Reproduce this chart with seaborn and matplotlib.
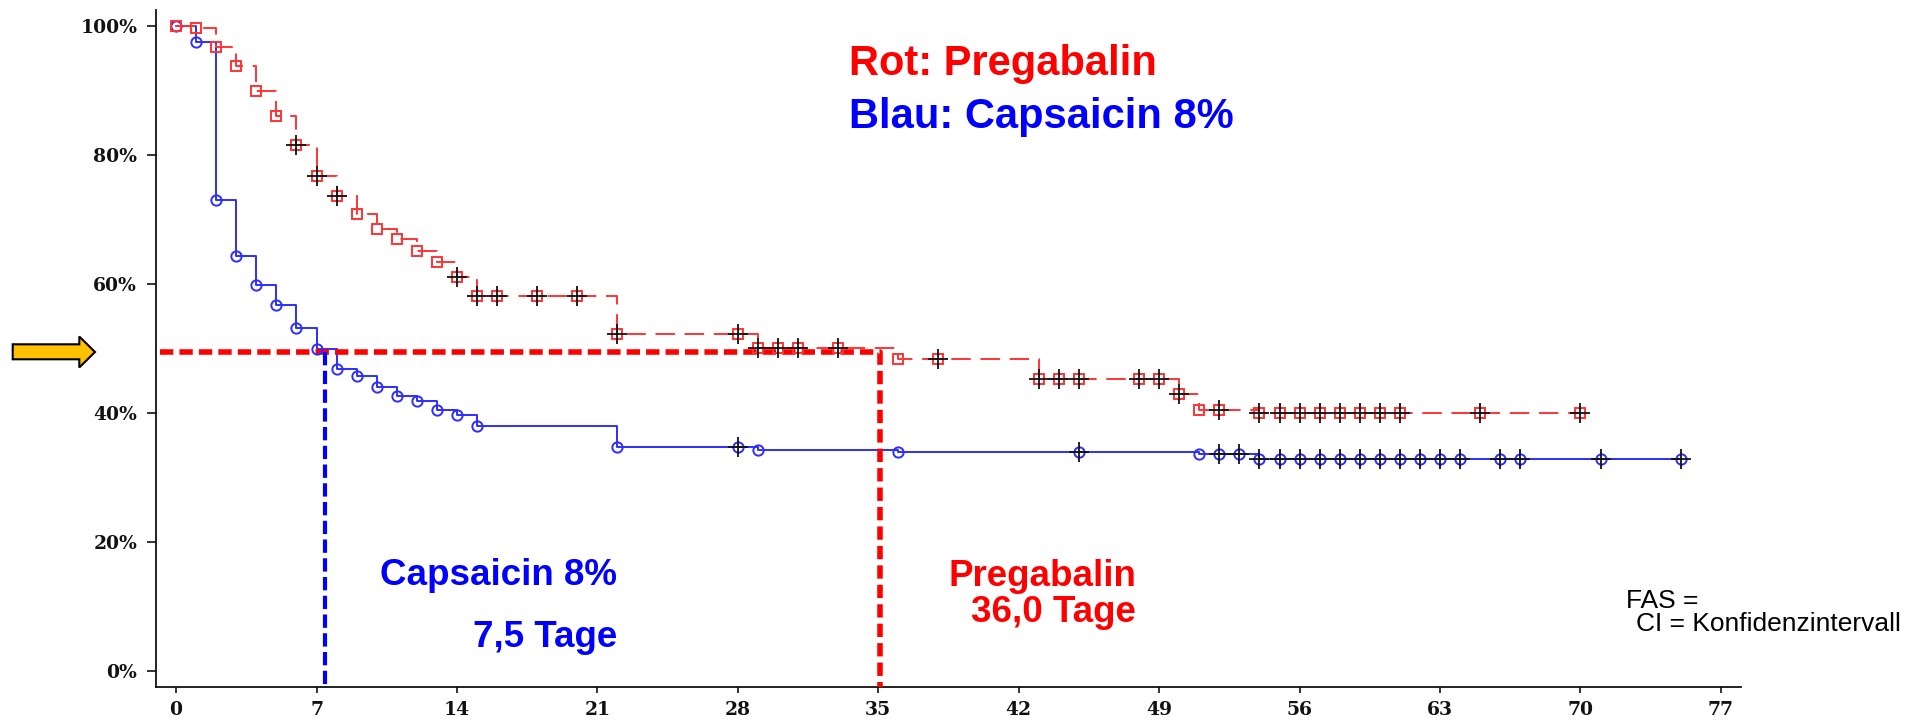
import numpy as np
import pandas as pd
import matplotlib
matplotlib.use("Agg")
import matplotlib.pyplot as plt
from matplotlib.patches import Polygon
import seaborn as sns

# Kaplan-Meier estimates (percent) per treatment arm
preg_days = [0, 1, 2, 3, 4, 5, 6, 7, 8, 9, 10, 11, 12, 13, 14, 15, 16, 18, 20, 22,
             28, 29, 30, 31, 33, 36, 38, 43, 44, 45, 48, 49, 50, 51, 52,
             54, 55, 56, 57, 58, 59, 60, 61, 65, 70]
preg_surv = [100.0, 99.7, 96.8, 93.8, 90.0, 86.0, 81.5, 76.7, 73.6, 70.8, 68.5, 67.0,
             65.1, 63.4, 61.1, 58.2, 58.2, 58.2, 58.2, 52.3,
             52.3, 50.0, 50.0, 50.0, 50.0, 48.4, 48.4, 45.2, 45.2, 45.2, 45.2, 45.2,
             42.9, 40.4, 40.4,
             40.0, 40.0, 40.0, 40.0, 40.0, 40.0, 40.0, 40.0, 40.0, 40.0]
preg_censored = [0, 0, 0, 0, 0, 0, 1, 1, 1, 0, 0, 0, 0, 0, 1, 1, 1, 1, 1, 1,
                 1, 1, 1, 1, 1, 0, 1, 1, 1, 1, 1, 1, 1, 0, 1,
                 1, 1, 1, 1, 1, 1, 1, 1, 1, 1]

caps_days = [0, 1, 2, 3, 4, 5, 6, 7, 8, 9, 10, 11, 12, 13, 14, 15, 22, 28, 29, 36, 45,
             51, 52, 53, 54, 55, 56, 57, 58, 59, 60, 61, 62, 63, 64, 66, 67, 71, 75]
caps_surv = [100.0, 97.5, 73.0, 64.4, 59.9, 56.7, 53.1, 49.85, 46.8, 45.7, 44.0, 42.6,
             41.8, 40.4, 39.7, 37.9, 34.7, 34.7, 34.3, 34.0, 34.0,
             33.6, 33.6, 33.6, 32.8, 32.8, 32.8, 32.8, 32.8, 32.8, 32.8, 32.8, 32.8,
             32.8, 32.8, 32.8, 32.8, 32.8, 32.8]
caps_censored = [0, 0, 0, 0, 0, 0, 0, 0, 0, 0, 0, 0, 0, 0, 0, 0, 0, 1, 0, 0, 1,
                 0, 1, 1, 1, 1, 1, 1, 1, 1, 1, 1, 1, 1, 1, 1, 1, 1, 1]

# Median reference lines (day) and the 50 % level
median_line_x = {"caps": 7.4, "preg": 35.1}
half_level = 49.5
median_labels = {"caps": "7,5 Tage", "preg": "36,0 Tage"}

x_ticks = [0, 7, 14, 21, 28, 35, 42, 49, 56, 63, 70, 77]
y_ticks = [0, 20, 40, 60, 80, 100]
y_tick_labels = ["0%", "20%", "40%", "60%", "80%", "100%"]

RED = "#FF3434"
BLUE = "#2E2EFF"

preg = pd.DataFrame({"day": preg_days, "surv": preg_surv, "cens": preg_censored})
caps = pd.DataFrame({"day": caps_days, "surv": caps_surv, "cens": caps_censored})

sns.set_style("ticks")
plt.rcParams["font.family"] = ["DejaVu Serif"]

W, H = 1907, 721
fig = plt.figure(figsize=(W / 100, H / 100), dpi=100)
ax = fig.add_axes([156 / W, 1 - 687 / H, (1741 - 156) / W, (687 - 10) / H])

# step curves
sns.lineplot(data=caps, x="day", y="surv", ax=ax, estimator=None, sort=False,
             drawstyle="steps-post", color=BLUE, linewidth=1.4, zorder=3)
sns.lineplot(data=preg, x="day", y="surv", ax=ax, estimator=None, sort=False,
             drawstyle="steps-post", color=RED, linewidth=1.4,
             linestyle=(0, (10, 5)), zorder=3)

# median guide lines
ax.plot([-0.8, median_line_x["preg"], median_line_x["preg"]],
        [half_level, half_level, -2.6], color="#FF0000", linewidth=4.0,
        linestyle=(0, (2.4, 1.1)), zorder=4, solid_capstyle="butt",
        dash_capstyle="butt", clip_on=False)
ax.plot([median_line_x["caps"], median_line_x["caps"]], [half_level, -2.6],
        color="#0000FF", linewidth=3.0, linestyle=(0, (3.2, 1.3)), zorder=4,
        dash_capstyle="butt", clip_on=False)

# event markers
sns.lineplot(data=caps, x="day", y="surv", ax=ax, estimator=None, sort=False,
             linestyle="none", marker="o", markersize=7.4, markerfacecolor="none",
             markeredgecolor=BLUE, markeredgewidth=1.4, zorder=5)
sns.lineplot(data=preg, x="day", y="surv", ax=ax, estimator=None, sort=False,
             linestyle="none", marker="s", markersize=7.4, markerfacecolor="none",
             markeredgecolor=RED, markeredgewidth=1.4, zorder=5)

# censoring crosses
for df in (caps, preg):
    c = df[df["cens"] == 1]
    sns.lineplot(data=c, x="day", y="surv", ax=ax, estimator=None, sort=False,
                 linestyle="none", marker="+", markersize=14,
                 markeredgecolor="#111111", markeredgewidth=1.3, zorder=6)

ax.set_xlim(-1.0, 78.0)
ax.set_ylim(-2.53, 102.5)
ax.set_xticks(x_ticks)
ax.set_xticklabels([str(t) for t in x_ticks])
ax.set_yticks(y_ticks)
ax.set_yticklabels(y_tick_labels)
ax.set_xlabel("")
ax.set_ylabel("")
ax.tick_params(axis="y", length=6.5, width=1.2, pad=7, labelsize=13.5, colors="#111111")
ax.tick_params(axis="x", length=4, width=1.2, pad=6, labelsize=13.5, colors="#111111")
for lab in ax.get_xticklabels() + ax.get_yticklabels():
    lab.set_fontweight("bold")
for s in ("top", "right"):
    ax.spines[s].set_visible(False)
for s in ("left", "bottom"):
    ax.spines[s].set_linewidth(1.3)
    ax.spines[s].set_color("#111111")

sans = ["Liberation Sans", "DejaVu Sans"]


def px(x, y):
    return x / W, 1 - y / H


fig.text(*px(849, 75), "Rot: Pregabalin", color="#FF0000", fontsize=30,
         fontweight="bold", family=sans, va="baseline", ha="left")
fig.text(*px(849, 128), "Blau: Capsaicin 8%", color="#0000FF", fontsize=30,
         fontweight="bold", family=sans, va="baseline", ha="left")

fig.text(*px(617, 585), "Capsaicin 8%", color="#0000FF", fontsize=26.5,
         fontweight="bold", family=sans, va="baseline", ha="right")
fig.text(*px(617, 647), median_labels["caps"], color="#0000FF", fontsize=26.5,
         fontweight="bold", family=sans, va="baseline", ha="right")
fig.text(*px(1136, 586), "Pregabalin", color="#FF0000", fontsize=26.5,
         fontweight="bold", family=sans, va="baseline", ha="right")
fig.text(*px(1136, 622), median_labels["preg"], color="#FF0000", fontsize=26.5,
         fontweight="bold", family=sans, va="baseline", ha="right")

fig.text(*px(1626, 608), "FAS =", color="black", fontsize=19, family=sans,
         va="baseline", ha="left")
fig.text(*px(1636, 631), "CI = Konfidenzintervall", color="black", fontsize=19,
         family=sans, va="baseline", ha="left")

# pointer arrow at the 50 % level
arrow_px = [(12.7, 344.3), (79.3, 344.3), (79.3, 336.5), (95.0, 352.0),
            (79.3, 367.5), (79.3, 359.3), (12.7, 359.3)]
fig.add_artist(Polygon([px(x, y) for x, y in arrow_px], closed=True,
                       transform=fig.transFigure, facecolor="#FFC000",
                       edgecolor="black", linewidth=1.5))

fig.savefig("out.png", dpi=100)
